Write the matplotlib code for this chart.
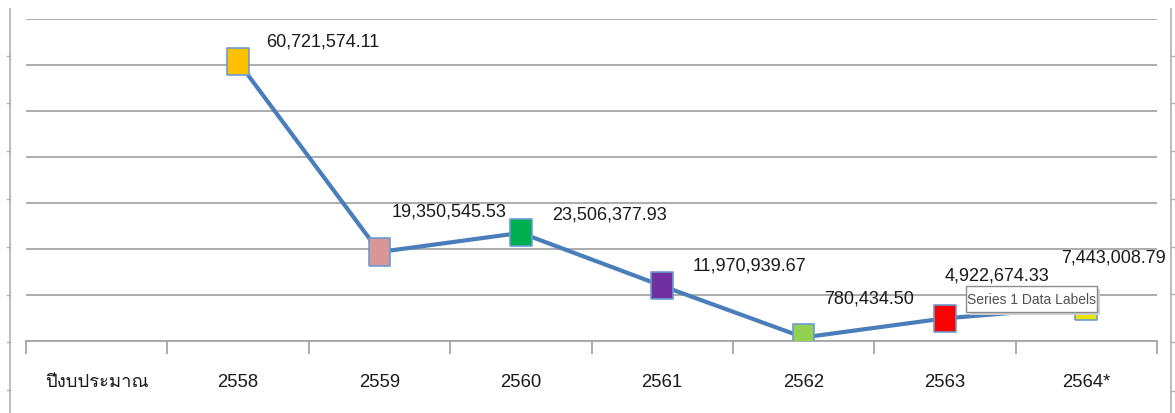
import matplotlib
matplotlib.use("Agg")
import matplotlib.pyplot as plt
from matplotlib import font_manager
from matplotlib.ft2font import FT2Font
from matplotlib.lines import Line2D
from matplotlib.patches import Rectangle

# data
categories = ["ปีงบประมาณ", "2558", "2559", "2560", "2561", "2562", "2563", "2564*"]
years_idx = [1, 2, 3, 4, 5, 6, 7]
values = [60721574.11, 19350545.53, 23506377.93, 11970939.67, 780434.50, 4922674.33, 7443008.79]
marker_colors = ["#FFC000", "#D99694", "#00B050", "#7030A0", "#92D050", "#FF0000", "#E6E600"]
# label offsets (pixels) from each marker, as in the original chart
label_offsets = [(28, 21), (12, 41), (31, 19), (30, 21), (21, 39), (0, 43), (-25, 50)]


def find_thai_font():
    for f in font_manager.fontManager.ttflist:
        try:
            if 0x0E1B in FT2Font(f.fname).get_charmap():
                return f.name
        except Exception:
            pass
    return None


thai = find_thai_font()
fams = ["Liberation Sans", "DejaVu Sans"]
if thai:
    fams = ["Liberation Sans", thai, "DejaVu Sans"]
plt.rcParams["font.family"] = fams

W, H = 1175, 414
fig = plt.figure(figsize=(W / 100, H / 100), dpi=100)
ax = fig.add_axes([26 / W, (H - 342) / H, (1157 - 26) / W, (342 - 20) / H])

grid_c = "#A6A6A6"
ax.set_ylim(0, 70e6)
ax.set_xlim(-0.5, 7.5)
ax.set_yticks(range(0, 70000001, 10000000))
ax.yaxis.grid(True, color=grid_c, linewidth=1.3)
ax.set_axisbelow(True)
for s in ["left", "right", "top"]:
    ax.spines[s].set_visible(False)
ax.spines["bottom"].set_color(grid_c)
ax.spines["bottom"].set_linewidth(1.3)
ax.tick_params(axis="y", left=False, labelleft=False)

ax.set_xticks(range(len(categories)))
ax.set_xticklabels(categories, fontsize=13.3, color="#1a1a1a")
ax.tick_params(axis="x", length=0, pad=23)
# boundary ticks between categories
ax.set_xticks([i - 0.5 for i in range(len(categories) + 1)], minor=True)
ax.tick_params(axis="x", which="minor", length=9, color=grid_c, width=1.3)

# slightly tall square marker like the source screenshot
box = [(-0.8, -1), (0.8, -1), (0.8, 1), (-0.8, 1), (-0.8, -1)]
ax.plot(years_idx, values, color="#4A7EBB", linewidth=3, zorder=3)
ax.scatter(years_idx, values, marker=box, s=380, c=marker_colors,
           edgecolors="#6C9BD2", linewidths=1.2, zorder=4)

for x, v, (dx, dy) in zip(years_idx, values, label_offsets):
    ax.annotate(f"{v:,.2f}", (x, v), xytext=(dx, dy), textcoords="offset pixels",
                ha="left", va="center", fontsize=13, color="#1a1a1a", zorder=5,
                annotation_clip=False)

# tooltip overlay
fig.add_artist(Rectangle((969 / W, (H - 316) / H), 131 / W, 26 / H,
                         transform=fig.transFigure, fc="#D0D0D0", ec="none", zorder=9))
fig.add_artist(Rectangle((966 / W, (H - 313) / H), 131 / W, 26 / H,
                         transform=fig.transFigure, fc="white", ec="#8C8C8C", lw=1, zorder=10))
fig.text(1031.5 / W, (H - 300) / H, "Series 1 Data Labels", ha="center", va="center",
         fontsize=10, color="#505050", zorder=11)

# outer sheet borders
fig.add_artist(Line2D([10 / W, 10 / W], [0, (H - 10) / H], color="#B0B0B0", lw=1.2))
fig.add_artist(Line2D([1171 / W, 1171 / W], [0, (H - 10) / H], color="#B0B0B0", lw=1.2))
for yy in [57, 104, 152, 200, 248, 296, 343, 391]:
    fig.add_artist(Line2D([7 / W, 10 / W], [(H - yy) / H] * 2, color="#B0B0B0", lw=1))
for yy in [57, 104, 152, 200, 248, 295, 343, 392]:
    fig.add_artist(Line2D([1171 / W, 1175 / W], [(H - yy) / H] * 2, color="#B0B0B0", lw=1))

fig.savefig("out.png", dpi=100)
